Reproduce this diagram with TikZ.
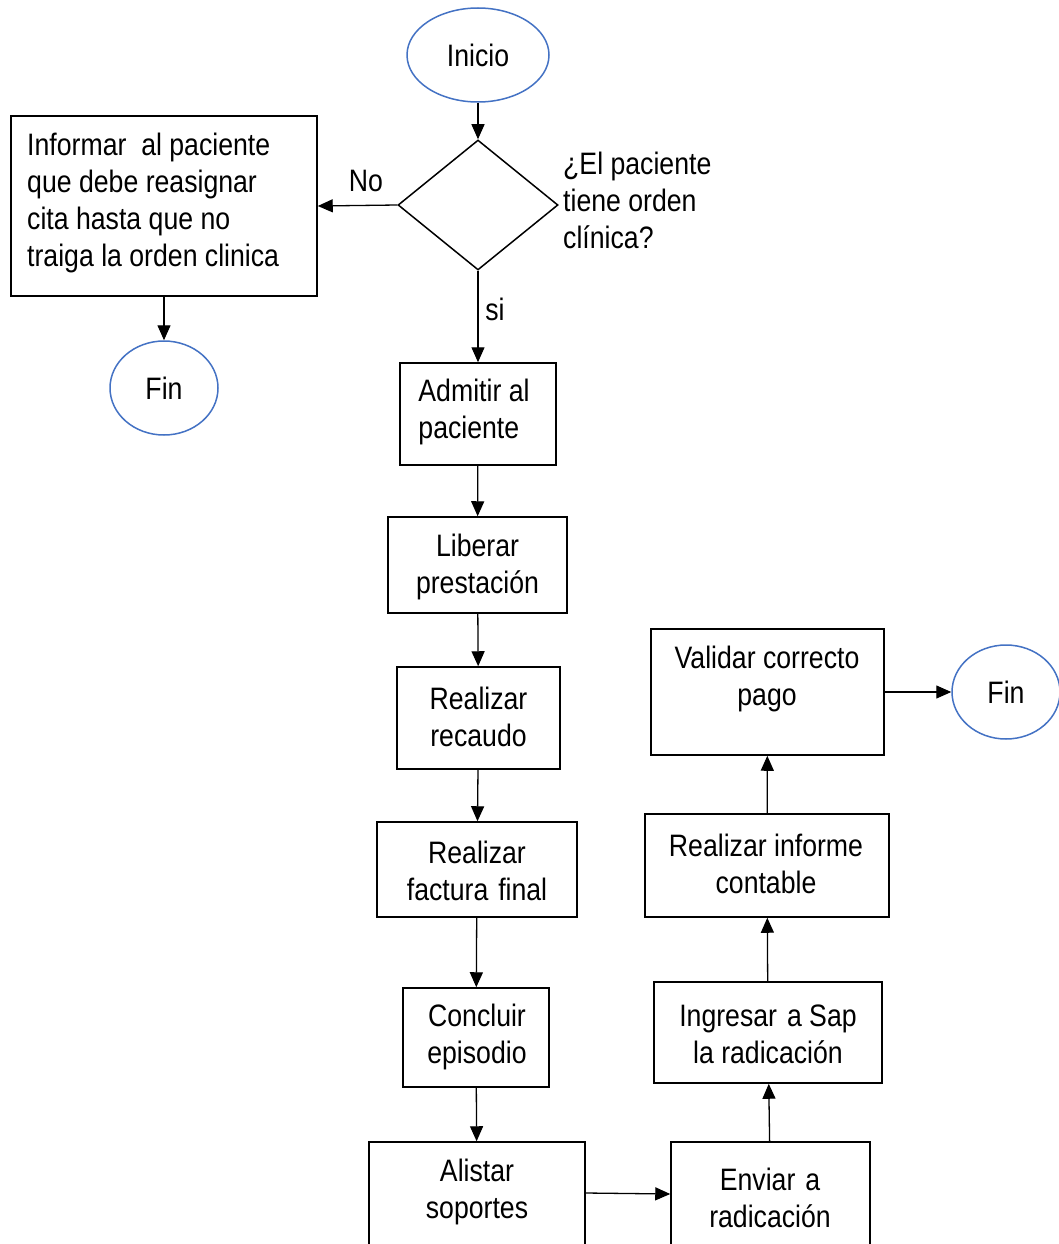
\documentclass[tikz,border=0pt]{standalone}
\usepackage{fontspec}
\setmainfont{Liberation Sans}[FakeStretch=0.86]
\usetikzlibrary{arrows.meta,shapes.geometric}

\definecolor{termblue}{HTML}{4472C4}

\tikzset{
  lbl/.style={font=\fontsize{31}{37}\selectfont, inner sep=0pt, align=center},
  stepbox/.style={draw=black, line width=1.5pt, rectangle, inner sep=0pt, fill=white},
  term/.style={draw=termblue, line width=1.5pt, ellipse, inner sep=0pt,
               font=\fontsize{31}{37}\selectfont},
  decision/.style={draw=black, line width=1.5pt, diamond, inner sep=0pt},
  arr/.style={line width=1.3pt, -{Triangle[length=15pt,width=13pt]}},
}
% slightly widened word gap
\newcommand{\wgap}{\hspace{0.32em}}

\begin{document}
\begin{tikzpicture}[x=1pt,y=-1pt]
\useasboundingbox (0,0) rectangle (1059,1244);
\clip (0,0) rectangle (1059,1244);
\fill[white] (0,0) rectangle (1059,1244);

% start and decision
\node[term, minimum width=142pt, minimum height=94pt] (inicio) at (478,55) {Inicio};
\node[decision, minimum width=160pt, minimum height=130pt] (dec) at (478,205) {};
\node[lbl, anchor=west, align=left] (pregunta) at (563,200)
  {¿El paciente\\tiene orden\\clínica?};

% "No" branch
\node[stepbox, minimum width=306pt, minimum height=180pt] (izq) at (164,206) {};
\node[lbl, anchor=west, align=left] (izq-t) at (27,203)
  {Informar\ \ al paciente\\que debe reasignar\\cita hasta que no\\traiga la orden clinica};
\node[term, minimum width=108pt, minimum height=94pt] (fin1) at (164,388) {Fin};
\node[lbl] (no) at (366,181) {No};

% main column
\node[lbl] (si) at (495,309) {si};
\node[stepbox, minimum width=156pt, minimum height=102pt] (admitir) at (478,414) {};
\node[lbl, align=left] (admitir-t) at (474,412) {Admitir al\\paciente};
\node[stepbox, minimum width=179pt, minimum height=96pt] (liberar) at (477.5,565) {};
\node[lbl] (liberar-t) at (477.5,567) {Liberar\\prestación};
\node[stepbox, minimum width=163pt, minimum height=102pt] (recaudo) at (478.5,718) {};
\node[lbl] (recaudo-t) at (478.5,717) {Realizar\\recaudo};
\node[stepbox, minimum width=200pt, minimum height=95pt] (factura) at (477,869.5) {};
\node[lbl] (factura-t) at (477,871) {Realizar\\factura\wgap final};
\node[stepbox, minimum width=146pt, minimum height=99pt] (concluir) at (476,1037.5) {};
\node[lbl] (concluir-t) at (477,1037) {Concluir\\episodio};
\node[stepbox, minimum width=216pt, minimum height=120pt] (alistar) at (477,1202) {};
\node[lbl] (alistar-t) at (477,1192) {Alistar\\soportes};

% right column, going up
\node[stepbox, minimum width=199pt, minimum height=120pt] (enviar) at (770.5,1202) {};
\node[lbl] (enviar-t) at (770,1198) {Enviar\wgap a\\radicación};
\node[stepbox, minimum width=228pt, minimum height=101pt] (ingresar) at (768,1032.5) {};
\node[lbl] (ingresar-t) at (768,1034) {Ingresar\wgap a Sap\\la radicación};
\node[stepbox, minimum width=244pt, minimum height=103pt] (informe) at (767,865.5) {};
\node[lbl] (informe-t) at (766,864) {Realizar informe\\contable};
\node[stepbox, minimum width=233pt, minimum height=126pt] (validar) at (767.5,692) {};
\node[lbl] (validar-t) at (767,679) {Validar correcto\\pago};
\node[term, minimum width=108pt, minimum height=94pt] (fin2) at (1006,692) {Fin};

% connectors
\draw[arr] (inicio) -- (dec);
\draw[arr] (dec.west) -- (izq.east);
\draw[arr] (izq) -- (fin1);
\draw[arr] (dec.south) -- (admitir.north);
\draw[arr] (admitir) -- (liberar);
\draw[arr] (liberar) -- (recaudo);
\draw[arr] (recaudo) -- (factura);
\draw[arr] (factura) -- (concluir);
\draw[arr] (concluir) -- (alistar);
\draw[arr] ([yshift=9pt]alistar.east) -- ([yshift=8pt]enviar.west);
\draw[arr] (enviar) -- (ingresar);
\draw[arr] (ingresar) -- (informe);
\draw[arr] (informe) -- (validar);
\draw[arr] (validar.east) -- (fin2.west);
\end{tikzpicture}
\end{document}
